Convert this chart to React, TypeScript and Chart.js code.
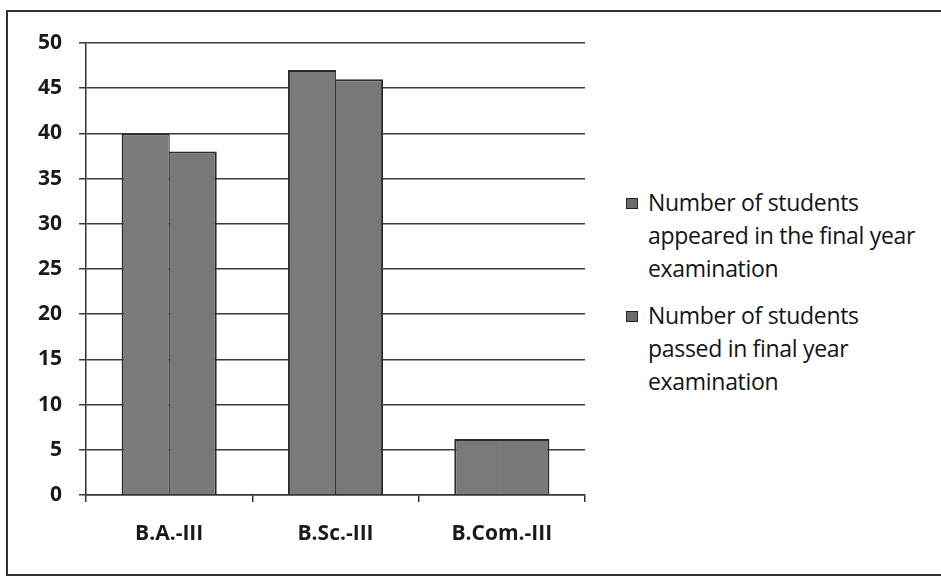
import React, { useEffect, useRef } from "react";
import { Chart, registerables } from "chart.js";

Chart.register(...registerables);

const categories = ["B.A.-III", "B.Sc.-III", "B.Com.-III"];
const appeared = [40, 47, 6.2];
const passed = [38, 46, 6.2];
const seriesNames = [
  ["Number of students", "appeared in the final year", "examination"],
  ["Number of students", "passed in final year", "examination"],
];
const yTicks = [0, 5, 10, 15, 20, 25, 30, 35, 40, 45, 50];

const FONT = "'Open Sans', Lato, sans-serif";

export default function App() {
  const ref = useRef<HTMLCanvasElement | null>(null);

  useEffect(() => {
    if (!ref.current) return;
    const chart = new Chart(ref.current, {
      type: "bar",
      data: {
        labels: categories,
        datasets: [
          {
            label: seriesNames[0].join(" "),
            data: appeared,
            backgroundColor: "#7a7a7a",
            borderColor: "#2b2b2b",
            borderWidth: (ctx: any) =>
              ctx.dataIndex === 2 ? { top: 2, left: 2, bottom: 0, right: 0 } : { top: 2, left: 2, bottom: 0, right: 1 },
            borderSkipped: false,
          },
          {
            label: seriesNames[1].join(" "),
            data: passed,
            backgroundColor: "#787878",
            borderColor: "#2b2b2b",
            borderWidth: (ctx: any) =>
              ctx.dataIndex === 2 ? { top: 2, left: 0, bottom: 0, right: 2 } : { top: 2, left: 1, bottom: 0, right: 2 },
            borderSkipped: false,
          },
        ],
      },
      options: {
        responsive: false,
        animation: false,
        layout: { padding: { top: 43, right: 15, left: 0, bottom: 0 } },
        plugins: { legend: { display: false }, tooltip: { enabled: false } },
        datasets: { bar: { barPercentage: 1.025, categoryPercentage: 0.565 } },
        scales: {
          x: {
            offset: true,
            grid: {
              offset: true,
              drawOnChartArea: false,
              drawTicks: true,
              tickLength: 7,
              color: "#333",
              lineWidth: 1.5,
            },
            border: { display: true, color: "#333", width: 1.5 },
            ticks: {
              color: "#1a1a1a",
              padding: 19,
              font: { family: FONT, size: 21, weight: "bold" },
            },
            afterFit: (s: any) => {
              s.height = 84;
            },
          },
          y: {
            min: 0,
            max: 50,
            afterBuildTicks: (s: any) => {
              s.ticks = yTicks.map((v) => ({ value: v }));
            },
            grid: {
              color: "#3a3a3a",
              lineWidth: 1.5,
              tickLength: 7,
              drawTicks: true,
            },
            border: { display: true, color: "#333", width: 1.5 },
            ticks: {
              color: "#1a1a1a",
              padding: 17,
              font: { family: FONT, size: 21, weight: "bold" },
            },
            afterFit: (s: any) => {
              s.width = 86;
            },
          },
        },
      } as any,
    });
    return () => chart.destroy();
  }, []);

  const legendItem = (lines: string[], top: number) => (
    <div style={{ position: "absolute", left: 626, top, display: "flex", alignItems: "flex-start" }}>
      <div
        style={{
          width: 10,
          height: 9,
          background: "#6a6a6a",
          border: "1px solid #222",
          marginTop: 12,
          marginRight: 10,
          flexShrink: 0,
        }}
      />
      <div
        style={{
          fontFamily: FONT,
          fontSize: 23,
          fontWeight: 500,
          lineHeight: "33px",
          color: "#141414",
          whiteSpace: "nowrap",
          letterSpacing: "-0.3px",
        }}
      >
        {lines.map((l, i) => (
          <div key={i}>{l}</div>
        ))}
      </div>
    </div>
  );

  return (
    <div style={{ position: "absolute", left: 0, top: 0, width: 941, height: 579, background: "#fff", overflow: "hidden" }}>
      <div
        style={{
          position: "absolute",
          left: 6,
          top: 10,
          width: 940,
          height: 566,
          border: "2px solid #333",
          boxSizing: "border-box",
        }}
      />
      <canvas ref={ref} width={600} height={579} style={{ position: "absolute", left: 0, top: 0 }} />
      {legendItem(seriesNames[0], 186)}
      {legendItem(seriesNames[1], 299)}
    </div>
  );
}
